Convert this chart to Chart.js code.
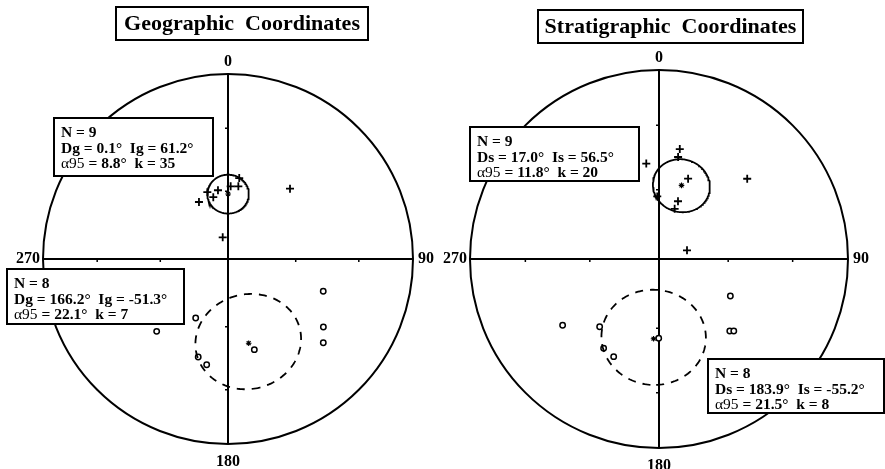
<!DOCTYPE html>
<html>
<head>
<meta charset="utf-8">
<script src="https://cdn.jsdelivr.net/npm/chart.js@4.4.0/dist/chart.umd.min.js"></script>
<style>
  body { margin: 0; background: #fff; }
  #wrap { position: relative; width: 885px; height: 469px; }
  canvas { position: absolute; top: 0; }
</style>
</head>
<body>
<div id="wrap">
  <canvas id="geo" width="440" height="469" style="left:0"></canvas>
  <canvas id="strat" width="445" height="469" style="left:440px"></canvas>
</div>
<script>
const rad = Math.PI / 180;

// geographic coordinates: lower hemisphere (+) and upper hemisphere (o) directions
const geoDownDec = [7.9, 2.1, 8.1, 351.7, 342.8, 346.6, 333.0, 41.4, 346.3];
const geoDownInc = [53.6, 57.7, 57.4, 59.2, 59.0, 61.9, 61.7, 48.0, 80.2];
const geoUpDec = [224.6, 208.7, 196.9, 191.4, 163.8, 108.7, 125.5, 131.3];
const geoUpInc = [-44.3, -60.2, -43.9, -41.3, -47.7, -44.8, -36.8, -32.0];

// stratigraphic coordinates
const stratDownDec = [10.7, 10.6, 352.4, 19.9, 47.7, 358.4, 18.2, 17.3, 72.7];
const stratDownInc = [40.5, 44.3, 47.8, 52.7, 37.0, 62.9, 63.7, 67.3, 77.4];
const stratUpDec = [235.5, 221.2, 211.8, 204.9, 180.2, 117.4, 135.5, 133.9];
const stratUpInc = [-38.1, -50.6, -43.7, -42.5, -55.5, -55.0, -45.6, -44.3];

// Fisher means: [normal, reversed]
const geoN = [9, 8];
const geoMeanDec = [0.1, 166.2];
const geoMeanInc = [61.2, -51.3];
const geoA95 = [8.8, 22.1];
const geoK = [35, 7];

const stratN = [9, 8];
const stratMeanDec = [17.0, 183.9];
const stratMeanInc = [56.5, -55.2];
const stratA95 = [11.8, 21.5];
const stratK = [20, 8];

const azimuthLabels = ['0', '90', '180', '270'];
const tickIncs = [60, 30];

// equal-area (Schmidt) projection, unit radius
function project(dec, inc) {
  const r = Math.SQRT2 * Math.sin((90 - Math.abs(inc)) / 2 * rad);
  return { x: r * Math.sin(dec * rad), y: r * Math.cos(dec * rad) };
}

// cone of confidence around a mean direction
function coneOutline(dec, inc, a95) {
  const D = dec * rad, I = inc * rad, a = a95 * rad;
  const n = [Math.cos(I) * Math.cos(D), Math.cos(I) * Math.sin(D), Math.sin(I)];
  const e1 = [-Math.sin(I) * Math.cos(D), -Math.sin(I) * Math.sin(D), Math.cos(I)];
  const e2 = [-Math.sin(D), Math.cos(D), 0];
  const pts = [];
  for (let t = 0; t <= 360; t += 2) {
    const c = Math.cos(t * rad), s = Math.sin(t * rad);
    const v = [0, 1, 2].map(i => Math.cos(a) * n[i] + Math.sin(a) * (c * e1[i] + s * e2[i]));
    pts.push(project(Math.atan2(v[1], v[0]) / rad, Math.asin(v[2]) / rad));
  }
  return pts;
}

const serif = '"Liberation Serif", "Times New Roman", serif';

function drawBox(ctx, b) {
  ctx.save();
  ctx.fillStyle = '#fff';
  ctx.fillRect(b.x, b.y, b.w, b.h);
  ctx.strokeStyle = '#000';
  ctx.lineWidth = 2;
  ctx.strokeRect(b.x, b.y, b.w, b.h);
  ctx.restore();
}

const netPlugin = {
  id: 'net',
  beforeDatasetsDraw(chart, args, opts) {
    const { ctx, chartArea: ca, scales } = chart;
    const cx = scales.x.getPixelForValue(0), cy = scales.y.getPixelForValue(0);
    const R = (ca.right - ca.left) / 2;
    ctx.save();
    ctx.strokeStyle = '#000';
    ctx.lineWidth = 2;
    ctx.beginPath();
    ctx.arc(cx, cy, R, 0, Math.PI * 2);
    ctx.stroke();
    ctx.beginPath();
    ctx.moveTo(ca.left, cy); ctx.lineTo(ca.right, cy);
    ctx.moveTo(cx, ca.top); ctx.lineTo(cx, ca.bottom);
    ctx.stroke();
    // inclination ticks along the axes
    ctx.lineWidth = 1.5;
    ctx.beginPath();
    tickIncs.forEach(inc => {
      const r = project(0, inc).y;
      [1, -1].forEach(s => {
        const px = scales.x.getPixelForValue(s * r);
        ctx.moveTo(px, cy); ctx.lineTo(px, cy + 3);
        const py = scales.y.getPixelForValue(s * r);
        ctx.moveTo(cx, py); ctx.lineTo(cx - 3, py);
      });
    });
    ctx.stroke();
    ctx.restore();
  },
  afterDatasetsDraw(chart, args, opts) {
    const { ctx, chartArea: ca, scales } = chart;
    const cx = scales.x.getPixelForValue(0), cy = scales.y.getPixelForValue(0);
    ctx.save();
    ctx.fillStyle = '#000';
    ctx.font = 'bold 16px ' + serif;
    ctx.textAlign = 'center';
    ctx.textBaseline = 'bottom';
    ctx.fillText(azimuthLabels[0], cx, ca.top - 4);
    ctx.textBaseline = 'top';
    ctx.fillText(azimuthLabels[2], cx, ca.bottom + 10);
    ctx.textBaseline = 'middle';
    ctx.textAlign = 'left';
    ctx.fillText(azimuthLabels[1], ca.right + 5, cy);
    ctx.textAlign = 'right';
    ctx.fillText(azimuthLabels[3], ca.left - 3, cy);

    // title
    drawBox(ctx, opts.titleBox);
    ctx.textAlign = 'center';
    ctx.textBaseline = 'middle';
    ctx.font = 'bold 22px ' + serif;
    ctx.fillText(opts.title, opts.titleBox.x + opts.titleBox.w / 2, opts.titleBox.y + opts.titleBox.h / 2 + 1);

    // statistics boxes
    ctx.textAlign = 'left';
    ctx.textBaseline = 'alphabetic';
    opts.statBoxes.forEach((b, i) => {
      drawBox(ctx, b);
      const s = opts.stats;
      const lines = [
        [[`N = ${s.n[i]}`, true]],
        [[`D${s.tag} = ${s.dec[i].toFixed(1)}°  I${s.tag} = ${s.inc[i].toFixed(1)}°`, true]],
        [['α95', false], [` = ${s.a95[i].toFixed(1)}°  k = ${s.k[i]}`, true]]
      ];
      lines.forEach((segs, j) => {
        let x = b.x + 7;
        const y = b.y + 19 + j * 15.5;
        segs.forEach(([txt, bold]) => {
          ctx.font = (bold ? 'bold ' : '') + '15.5px ' + serif;
          ctx.fillText(txt, x, y);
          x += ctx.measureText(txt).width;
        });
      });
    });
    ctx.restore();
  }
};

function makeNet(id, downDec, downInc, upDec, upInc, stats, layout) {
  const down = downDec.map((d, i) => project(d, downInc[i]));
  const up = upDec.map((d, i) => project(d, upInc[i]));
  const means = stats.dec.map((d, i) => project(d, stats.inc[i]));
  return new Chart(document.getElementById(id), {
    type: 'scatter',
    data: {
      datasets: [
        { data: coneOutline(stats.dec[0], stats.inc[0], stats.a95[0]), showLine: true, spanGaps: true,
          pointRadius: 0, borderColor: '#000', borderWidth: 1.8, tension: 0 },
        { data: coneOutline(stats.dec[1], stats.inc[1], stats.a95[1]), showLine: true, spanGaps: true,
          pointRadius: 0, borderColor: '#000', borderWidth: 1.8, borderDash: [8, 7], tension: 0 },
        { data: down, pointStyle: 'cross', pointRadius: 4, borderColor: '#000', borderWidth: 1.8 },
        { data: up, pointStyle: 'circle', pointRadius: 2.7, borderColor: '#000',
          backgroundColor: '#fff', borderWidth: 1.5 },
        { data: means, pointStyle: 'star', pointRadius: 2.8, borderColor: '#000', borderWidth: 1.1 }
      ]
    },
    options: {
      responsive: false,
      animation: false,
      layout: { padding: layout.padding },
      scales: {
        x: { type: 'linear', min: -1, max: 1, display: false },
        y: { type: 'linear', min: -1, max: 1, display: false }
      },
      elements: { point: { hoverRadius: 0 } },
      plugins: {
        legend: { display: false },
        tooltip: { enabled: false },
        net: { title: layout.title, titleBox: layout.titleBox, statBoxes: layout.statBoxes, stats }
      },
      datasets: { scatter: { clip: false } }
    },
    plugins: [netPlugin]
  });
}

makeNet('geo', geoDownDec, geoDownInc, geoUpDec, geoUpInc,
  { tag: 'g', n: geoN, dec: geoMeanDec, inc: geoMeanInc, a95: geoA95, k: geoK },
  {
    padding: { left: 43, right: 27, top: 74, bottom: 25 },
    title: 'Geographic  Coordinates',
    titleBox: { x: 116, y: 7, w: 252, h: 33 },
    statBoxes: [{ x: 54, y: 118, w: 159, h: 58 }, { x: 7, y: 269, w: 177, h: 55 }]
  });

makeNet('strat', stratDownDec, stratDownInc, stratUpDec, stratUpInc,
  { tag: 's', n: stratN, dec: stratMeanDec, inc: stratMeanInc, a95: stratA95, k: stratK },
  {
    padding: { left: 30, right: 37, top: 70, bottom: 21 },
    title: 'Stratigraphic  Coordinates',
    titleBox: { x: 98, y: 10, w: 265, h: 33 },
    statBoxes: [{ x: 30, y: 127, w: 169, h: 54 }, { x: 268, y: 359, w: 176, h: 54 }]
  });
</script>
</body>
</html>
